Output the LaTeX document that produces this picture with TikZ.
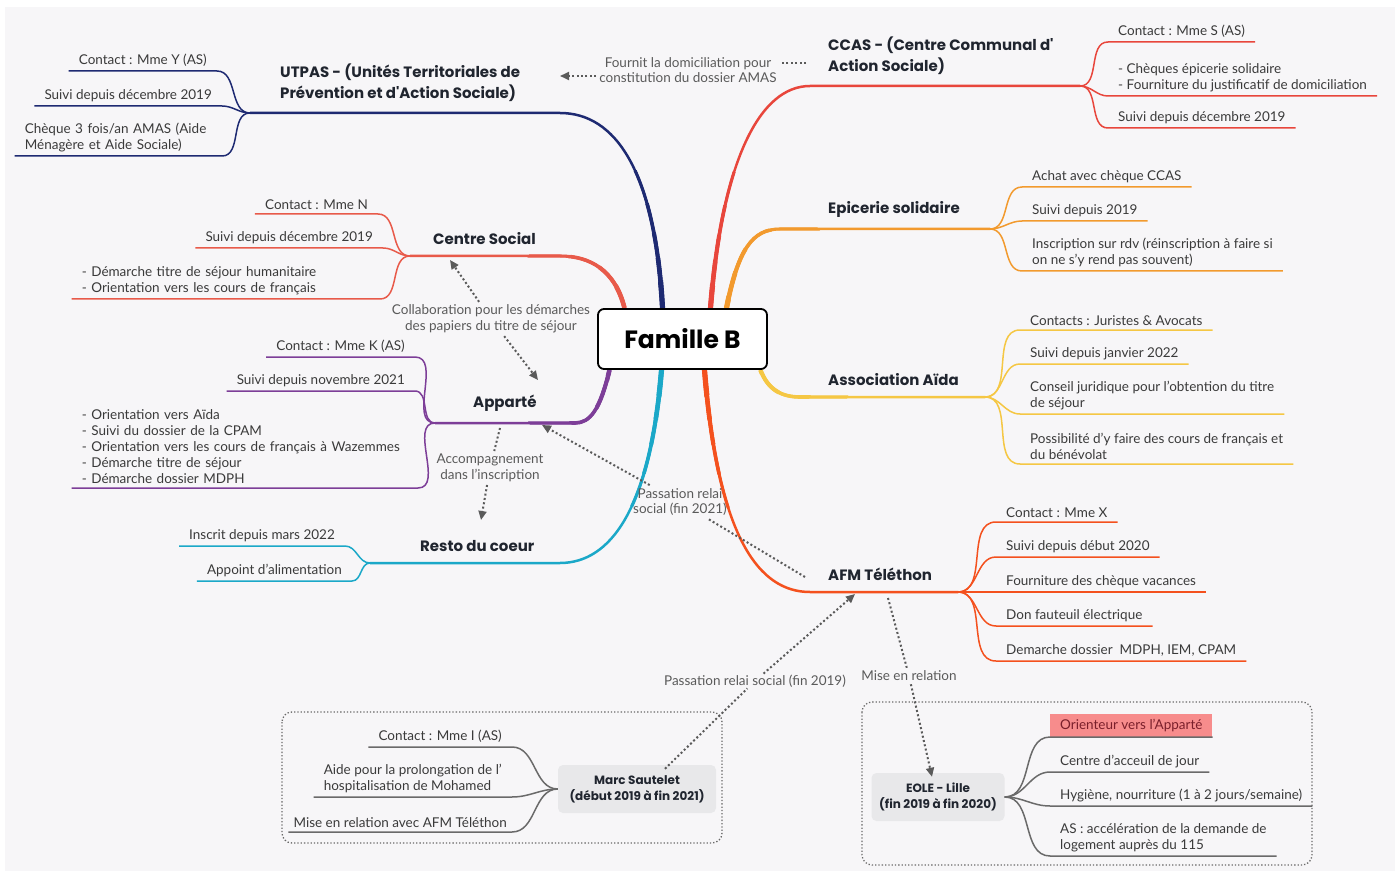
\documentclass[tikz,border=0pt]{standalone}
\usepackage{fontspec}
\setmainfont{Lato}
\newfontfamily\headfont{Poppins}
\usetikzlibrary{arrows.meta}
\definecolor{BgClr}{HTML}{F7F6F8}
\definecolor{NavyClr}{HTML}{1E2A72}
\definecolor{RedClr}{HTML}{E8463C}
\definecolor{CoralClr}{HTML}{E85A4A}
\definecolor{OrangeClr}{HTML}{F29A2E}
\definecolor{YellowClr}{HTML}{F5C744}
\definecolor{PurpleClr}{HTML}{7D3E98}
\definecolor{CyanClr}{HTML}{1BA8C8}
\definecolor{AfmClr}{HTML}{F4511E}
\definecolor{GreyClr}{HTML}{6A6A6A}
\definecolor{HeadClr}{HTML}{20252F}
\definecolor{LeafClr}{HTML}{3A3A3A}
\definecolor{RelClr}{HTML}{5A5A5A}
\definecolor{PinkClr}{HTML}{F78C8C}
\definecolor{PinkTxt}{HTML}{7A1F2B}
\definecolor{BoxClr}{HTML}{E8E8EA}
\pgfdeclarelayer{back}
\pgfdeclarelayer{limbs}
\pgfsetlayers{back,limbs,main}
\newcommand\drawLimb[2]{%
  \draw[stem,#1] #2;
  \foreach \r/\w in {175pt/3.1pt,140pt/3.6pt,110pt/4.1pt,85pt/4.6pt,62pt/5.2pt}{%
    \begin{scope}\clip (fam.center) circle (\r); \draw[#1,line width=\w] #2; \end{scope}}}

\begin{document}
\begin{tikzpicture}[x=1pt,y=-1pt,
  famnode/.style={draw=black,line width=1.8pt,fill=white,rounded corners=6pt,
    minimum width=169pt,minimum height=60pt,font=\headfont\bfseries\fontsize{25}{28}\selectfont},
  head/.style={font=\headfont\bfseries\fontsize{15}{21}\selectfont,text=HeadClr,
    align=left,inner sep=0pt,anchor=south west},
  leafR/.style={font=\fontsize{13.5}{16}\selectfont,text=LeafClr,align=left,
    inner xsep=10pt,inner ysep=4pt,anchor=south west},
  leafL/.style={leafR,anchor=south east},
  note/.style={font=\fontsize{13.5}{15.5}\selectfont,text=RelClr,align=center,inner sep=3pt},
  gbox/.style={fill=BoxClr,rounded corners=5pt,font=\headfont\bfseries\fontsize{12}{16}\selectfont,
    text=HeadClr,align=center,minimum height=48pt},
  frame/.style={draw=GreyClr,line width=1.3pt,dash pattern=on 1.3pt off 2pt,rounded corners=10pt},
  stem/.style={line width=2.5pt,line cap=round},
  twig/.style={line width=1.5pt},
  rel/.style={draw=RelClr,line width=2pt,dash pattern=on 2pt off 2.4pt},
  tip/.style={-{Triangle[length=9pt,width=8pt]}}]

\begin{pgfonlayer}{back}
\fill[white] (0,0) rectangle (1400,877);
\fill[BgClr] (5,7) rectangle (1395,871);
\draw[frame] (282,712) rectangle (722,843);
\draw[frame] (862,702) rectangle (1312,865);
\end{pgfonlayer}
\useasboundingbox (0,0) rectangle (1400,877);

\node[famnode] (fam) at (682.5,339) {Famille B};

% main branches
\coordinate (rU) at ([xshift=-20pt]fam.north);
\coordinate (rC) at ([xshift=28pt]fam.north);
\coordinate (rS) at ([xshift=-58pt]fam.north);
\coordinate (rE) at ([xshift=44pt]fam.north);
\coordinate (rP) at ([xshift=-73pt]fam.south);
\coordinate (rR) at ([xshift=-21pt]fam.south);
\coordinate (rF) at ([xshift=22pt]fam.south);
\coordinate (rA) at ([xshift=78pt]fam.south);
\coordinate (jU) at (250,113);
\coordinate (jC) at (1080,86);
\coordinate (jS) at (410,256);
\coordinate (jE) at (990,229);
\coordinate (jP) at (435,423);
\coordinate (jA) at (985,397);
\coordinate (jR) at (370,563);
\coordinate (jF) at (958,592);

\begin{pgfonlayer}{limbs}
\drawLimb{NavyClr}{(rU) .. controls (655,170) and (615,113) .. (560,113) -- (jU)}
\drawLimb{RedClr}{(rC) .. controls (722,160) and (760,86) .. (810,86) -- (jC)}
\drawLimb{CoralClr}{(rS) .. controls (615,270) and (590,256) .. (560,256) -- (jS)}
\drawLimb{OrangeClr}{(rE) .. controls (738,250) and (752,229) .. (780,229) -- (jE)}
\drawLimb{PurpleClr}{(rP) .. controls (600,410) and (590,423) .. (575,423) -- (jP)}
\drawLimb{YellowClr}{(rA) .. controls (768,390) and (782,397) .. (800,397) -- (jA)}
\drawLimb{CyanClr}{(rR) .. controls (650,510) and (610,563) .. (560,563) -- (jR)}
\drawLimb{AfmClr}{(rF) .. controls (718,540) and (760,592) .. (810,592) -- (jF)}
\end{pgfonlayer}

% headings
\node[head] (utpas) at (280,102) {UTPAS - (Unités Territoriales de\\Prévention et d'Action Sociale)};
\node[head] (ccas) at (828,75) {CCAS - (Centre Communal d'\\Action Sociale)};
\node[head] (csoc) at (433,245) {Centre Social};
\node[head] (epic) at (828,218) {Epicerie solidaire};
\node[head] (appa) at (473,412) {Apparté};
\node[head] (aida) at (828,386) {Association Aïda};
\node[head] (resto) at (420,552) {Resto du coeur};
\node[head] (afm) at (828,581) {AFM Téléthon};

% UTPAS
\node[leafL] (u1) at (217,71) {Contact : Mme Y (AS)};
\node[leafL] (u2) at (222,106) {Suivi depuis décembre 2019};
\node[leafL,text width=187pt] (u3) at (222,156) {Chèque 3 fois/an AMAS (Aide\\Ménagère et Aide Sociale)};
\foreach \n in {u1,u2,u3} \draw[twig,NavyClr] (jU) to[out=180,in=0] (\n.south east) -- (\n.south west);

% CCAS
\node[leafR] (c1) at (1108,42) {Contact : Mme S (AS)};
\node[leafR] (c2) at (1108,96) {- Chèques épicerie solidaire\\- Fourniture du justificatif de domiciliation};
\node[leafR] (c3) at (1108,128) {Suivi depuis décembre 2019};
\foreach \n in {c1,c2,c3} \draw[twig,RedClr] (jC) to[out=0,in=180] (\n.south west) -- (\n.south east);

% Centre Social
\node[leafL] (s1) at (378,214) {Contact : Mme N};
\node[leafL] (s2) at (383,248) {Suivi depuis décembre 2019};
\node[leafL,text width=288pt] (s3) at (380,299) {- Démarche titre de séjour humanitaire\\- Orientation vers les cours de français};
\foreach \n in {s1,s2,s3} \draw[twig,CoralClr] (jS) to[out=180,in=0] (\n.south east) -- (\n.south west);

% Epicerie solidaire
\node[leafR] (e1) at (1022,187) {Achat avec chèque CCAS};
\node[leafR] (e2) at (1022,221) {Suivi depuis 2019};
\node[leafR] (e3) at (1022,271) {Inscription sur rdv (réinscription à faire si\\on ne s'y rend pas souvent)};
\foreach \n in {e1,e2,e3} \draw[twig,OrangeClr] (jE) to[out=0,in=180] (\n.south west) -- (\n.south east);

% Apparte
\node[leafL] (p1) at (415,357) {Contact : Mme K (AS)};
\node[leafL] (p2) at (415,391) {Suivi depuis novembre 2021};
\node[leafL,text width=326pt] (p3) at (418,488) {- Orientation vers Aïda\\- Suivi du dossier de la CPAM\\- Orientation vers les cours de français à Wazemmes\\- Démarche titre de séjour\\- Démarche dossier MDPH};
\foreach \n in {p1,p2,p3} \draw[twig,PurpleClr] (jP) to[out=180,in=0] (\n.south east) -- (\n.south west);

% Association Aida
\node[leafR] (a1) at (1020,330) {Contacts : Juristes \& Avocats};
\node[leafR] (a2) at (1020,364) {Suivi depuis janvier 2022};
\node[leafR] (a3) at (1020,414) {Conseil juridique pour l'obtention du titre\\de séjour};
\node[leafR] (a4) at (1020,464) {Possibilité d'y faire des cours de français et\\du bénévolat};
\foreach \n in {a1,a2,a3,a4} \draw[twig,YellowClr] (jA) to[out=0,in=180] (\n.south west) -- (\n.south east);

% Resto du coeur
\node[leafL] (r1) at (345,546) {Inscrit depuis mars 2022};
\node[leafL] (r2) at (352,581) {Appoint d'alimentation};
\foreach \n in {r1,r2} \draw[twig,CyanClr] (jR) to[out=180,in=0] (\n.south east) -- (\n.south west);

% AFM Telethon
\node[leafR] (f1) at (996,522) {Contact : Mme X};
\node[leafR] (f2) at (996,557) {Suivi depuis début 2020};
\node[leafR] (f3) at (996,592) {Fourniture des chèque vacances};
\node[leafR] (f4) at (996,626) {Don fauteuil électrique};
\node[leafR] (f5) at (996,661) {Demarche dossier\ \ MDPH, IEM, CPAM};
\foreach \n in {f1,f2,f3,f4,f5} \draw[twig,AfmClr] (jF) to[out=0,in=180] (\n.south west) -- (\n.south east);

% Marc Sautelet
\node[gbox,minimum width=158pt] (marc) at (637,789) {Marc Sautelet\\(début 2019 à fin 2021)};
\node[leafL] (m1) at (512,747) {Contact : Mme I (AS)};
\node[leafL] (m2) at (512,797) {Aide pour la prolongation de l'\\hospitalisation de Mohamed};
\node[leafL,inner xsep=5pt] (m3) at (512,832) {Mise en relation avec AFM Téléthon};
\foreach \n in {m1,m2,m3} \draw[twig,GreyClr] (marc.west) to[out=180,in=0] (\n.south east) -- (\n.south west);

% EOLE
\node[gbox,minimum width=133pt] (eole) at (938,797) {EOLE - Lille\\(fin 2019 à fin 2020)};
\node[leafR,fill=PinkClr,text=PinkTxt,inner ysep=5pt] (v1) at (1050,737) {Orienteur vers l'Apparté};
\node[leafR] (v2) at (1050,772) {Centre d'acceuil de jour};
\node[leafR] (v3) at (1050,806) {Hygiène, nourriture (1 à 2 jours/semaine)};
\node[leafR] (v4) at (1050,856) {AS : accélération de la demande de\\logement auprès du 115};
\foreach \n in {v1,v2,v3,v4} \draw[twig,GreyClr] (eole.east) to[out=0,in=180] (\n.south west) -- (\n.south east);

% relations
\node[note] (lab1) at (688,70) {Fournit la domiciliation pour\\constitution du dossier AMAS};
\coordinate (s1) at (806,63);
\coordinate (t1) at (560,76);
\draw[rel] (s1) -- (s1 -| lab1.east);
\draw[rel,tip] (lab1.west |- t1) -- (t1);

\node[note] (lab2) at (491,319) {Collaboration pour les démarches\\des papiers du titre de séjour};
\coordinate (t2a) at (450,260);
\coordinate (t2b) at (538,380);
\draw[rel,tip] (lab2) -- (t2a);
\draw[rel,tip] (lab2) -- (t2b);

\node[note] (lab3) at (490,468) {Accompagnement\\dans l'inscription};
\coordinate (s3) at (500,428);
\coordinate (t3) at (481,520);
\draw[rel] (s3) -- (lab3);
\draw[rel,tip] (lab3) -- (t3);

\node[note] (lab4) at (680,502) {Passation relai\\social (fin 2021)};
\coordinate (s4) at (805,577);
\coordinate (t4) at (542,425);
\draw[rel] (s4) -- (lab4);
\draw[rel,tip] (lab4) -- (t4);

\node[note,inner sep=1pt] (lab5) at (755,681) {Passation relai social (fin 2019)};
\coordinate (s5) at ([xshift=28pt,yshift=-4pt]marc.north);
\coordinate (t5) at (855,594);
\draw[rel] (s5) -- (lab5);
\draw[rel,tip] (lab5) -- (t5);

\node[note] (lab6) at (909,676) {Mise en relation};
\coordinate (s6) at (888,598);
\coordinate (t6) at ([xshift=-6pt,yshift=-4pt]eole.north);
\draw[rel] (s6) -- (lab6);
\draw[rel,tip] (lab6) -- (t6);

\end{tikzpicture}
\end{document}
